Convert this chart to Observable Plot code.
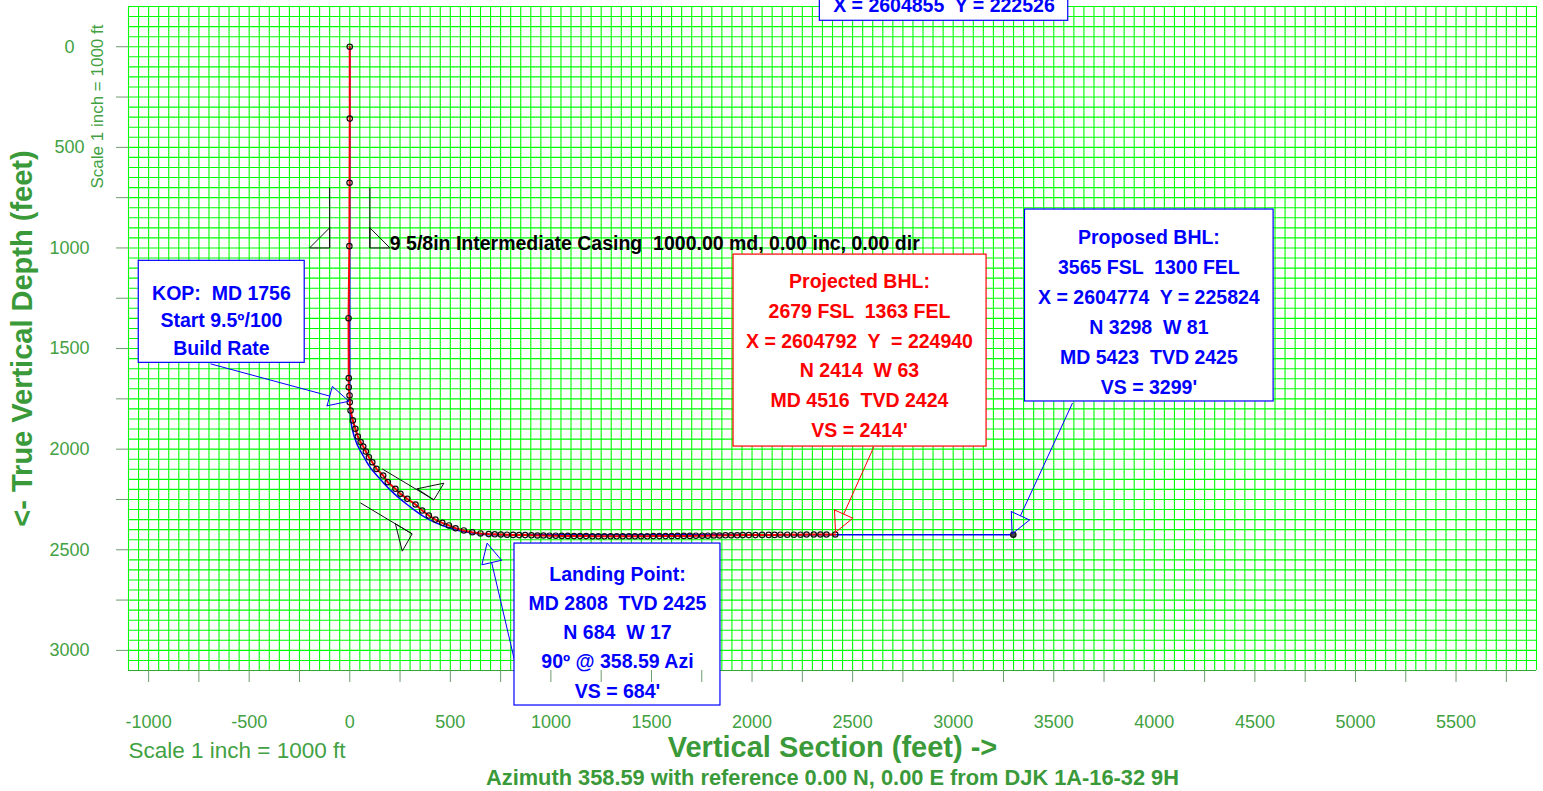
<!DOCTYPE html>
<html><head><meta charset="utf-8">
<script src="https://cdn.jsdelivr.net/npm/d3@7"></script>
<script src="https://cdn.jsdelivr.net/npm/@observablehq/plot@0.6"></script>
<style>
html,body{margin:0;padding:0;background:#fff;}
#chart svg{display:block;}
#chart svg text{white-space:pre;}
</style></head><body><div id="chart"></div>
<script>
// ---------- data (feet) ----------
// planned well path (blue)
const planVS  = [0, 0, 1, 5, 12, 22, 38, 55, 85, 108, 135, 165, 195, 222, 250, 285, 325, 360, 395, 428, 460, 500, 540, 585, 625, 684, 3299];
const planTVD = [0, 1756, 1800, 1857, 1900, 1937, 1980, 2012, 2065, 2100, 2131, 2165, 2197, 2222, 2247, 2275, 2305, 2330, 2350, 2366, 2379, 2393, 2404, 2413, 2419, 2425, 2425];
// survey / actual path (red with points)
const surveyVS  = [0, 0, -1, -2, -6, -5, -5, -1, 0, 4, 15, 28, 40, 54, 67, 80, 95, 112, 133, 166, 189, 227, 252, 286, 327, 360, 393, 426, 460, 493, 526, 567, 609, 650, 691,
  721, 751, 782, 812, 842, 872, 903, 933, 963, 993, 1024, 1054, 1084, 1115, 1145, 1175, 1206, 1236, 1266, 1297, 1327, 1357, 1388, 1418, 1448, 1479, 1509, 1539, 1570, 1600, 1630, 1661, 1691, 1721, 1752,
  1780, 1810, 1838, 1868, 1896, 1926, 1954, 1984, 2017, 2050, 2083, 2112, 2141, 2175, 2208, 2241, 2271, 2307, 2340, 2370, 2414];
const surveyTVD = [0, 357, 676, 991, 1349, 1647, 1692, 1733, 1767, 1808, 1857, 1899, 1937, 1965, 1987, 2012, 2040, 2065, 2098, 2131, 2164, 2197, 2222, 2247, 2275, 2305, 2330, 2350, 2366, 2379, 2393, 2404, 2413, 2419, 2422,
  2423, 2424, 2425, 2426, 2427, 2427, 2428, 2429, 2429, 2430, 2430, 2431, 2431, 2432, 2432, 2432, 2433, 2433, 2433, 2433, 2433, 2433, 2433, 2433, 2433, 2433, 2432, 2432, 2432, 2432, 2431, 2431, 2431, 2430, 2430,
  2430, 2429, 2429, 2428, 2428, 2428, 2427, 2427, 2427, 2426, 2426, 2426, 2425, 2425, 2425, 2425, 2424, 2424, 2424, 2424, 2424];

// annotation boxes
const boxX1 = [2337, -1049, 1908, 3357, 819];
const boxX2 = [3572, -224, 3166, 4593, 1843];
const boxY1 = [-700, 1064, 1033, 809, 2469];
const boxY2 = [-129, 1571, 1987, 1763, 3274];
const boxColor = ["#0000ff", "#0000ff", "#ff0000", "#0000ff", "#0000ff"];
const boxTextVS  = [2954, -638, 2534, 3973, 1331];
const boxTextTVD = [-175, 1350, 1522, 1306, 2898];
const boxText = [
  "X = 2604855  Y = 222526",
  "KOP:  MD 1756\nStart 9.5º/100\nBuild Rate",
  "Projected BHL:\n2679 FSL  1363 FEL\nX = 2604792  Y  = 224940\nN 2414  W 63\nMD 4516  TVD 2424\nVS = 2414'",
  "Proposed BHL:\n3565 FSL  1300 FEL\nX = 2604774  Y = 225824\nN 3298  W 81\nMD 5423  TVD 2425\nVS = 3299'",
  "Landing Point:\nMD 2808  TVD 2425\nN 684  W 17\n90º @ 358.59 Azi\nVS = 684'"
];
const boxLineAnchor = ["bottom", "middle", "middle", "middle", "middle"];
const boxLineHeight = [1.2, 1.41, 1.53, 1.54, 1.5];

// callout arrows
const arrowStartVS  = [-692, 2605, 3593, 819];
const arrowStartTVD = [1576, 1990, 1771, 3050];
const arrowTipVS    = [-4, 2415, 3293, 683];
const arrowTipTVD   = [1762, 2413, 2421, 2467];
const arrowColor    = ["#0000ff", "#ff0000", "#0000ff", "#0000ff"];

// casing symbols: wall lines and shoe triangles
const casingWallVS1  = [-100, 100, 161, 53];
const casingWallTVD1 = [700, 700, 2098, 2267];
const casingWallVS2  = [-100, 100, 418, 310];
const casingWallTVD2 = [1000, 1000, 2252, 2421];
const shoeVS  = [[-100, -200, -100], [100, 200, 100], [335, 468, 418], [227, 310, 261]];
const shoeTVD = [[900, 1000, 1000], [900, 1000, 1000], [2197, 2169, 2252], [2371, 2421, 2507]];
const casingLabel = "9 5/8in Intermediate Casing  1000.00 md, 0.00 inc, 0.00 dir";
const casingLabelVS = 199, casingLabelTVD = 1000;

// axes ticks
const xTicks = d3.range(-1000, 5751, 250);
const yTicks = d3.range(0, 3001, 250);
const yLabels = [0, 500, 1000, 1500, 2000, 2500, 3000];
const xTitle = "Vertical Section (feet) ->";
const yTitle = "<- True Vertical Depth (feet)";
const scaleNote = "Scale 1 inch = 1000 ft";
const azNote = "Azimuth 358.59 with reference 0.00 N, 0.00 E from DJK 1A-16-32 9H";

// ---------- build ----------
const plan = planVS.map((vs, i) => ({vs, tvd: planTVD[i]}));
const survey = surveyVS.map((vs, i) => ({vs, tvd: surveyTVD[i]}));
const boxes = boxX1.map((x1, i) => ({x1, x2: boxX2[i], y1: boxY1[i], y2: boxY2[i], color: boxColor[i],
  tx: boxTextVS[i], ty: boxTextTVD[i], text: boxText[i], la: boxLineAnchor[i], lh: boxLineHeight[i]}));
const shafts = [], heads = [];
arrowTipVS.forEach((tx, i) => {
  const sx = arrowStartVS[i], sy = arrowStartTVD[i], ty = arrowTipTVD[i];
  const L = Math.hypot(tx - sx, ty - sy), ux = (tx - sx) / L, uy = (ty - sy) / L;
  const mx = tx - 99 * ux, my = ty - 99 * uy;
  shafts.push({x1: sx, y1: sy, x2: mx, y2: my, c: arrowColor[i]});
  const px = -uy, py = ux;
  [[mx + 50 * px, my + 50 * py], [tx, ty], [mx - 50 * px, my - 50 * py], [mx + 50 * px, my + 50 * py]]
    .forEach(([x, y]) => heads.push({x, y, z: i, c: arrowColor[i]}));
});
const walls = casingWallVS1.map((v, i) => ({x1: v, y1: casingWallTVD1[i], x2: casingWallVS2[i], y2: casingWallTVD2[i]}));
const shoes = [];
shoeVS.forEach((xs, i) => { xs.concat([xs[0]]).forEach((x, j) => shoes.push({x, y: shoeTVD[i][j % 3], z: i})); });

const green = "#42a142";
const gridX = d3.range(-1100, 5901, 50);
const gridY = d3.range(-200, 3101, 50);

const chart = Plot.plot({
  width: 1543, height: 791,
  marginLeft: 128, marginRight: 7, marginTop: 6, marginBottom: 121,
  x: {domain: [-1100, 5900]},
  y: {domain: [-200, 3100], reverse: true},
  style: {fontFamily: "'Liberation Sans', Arial, Helvetica, sans-serif", fontSize: "18px", background: "white", overflow: "hidden"},
  marks: [
    Plot.ruleX(gridX, {stroke: "#00ff00", strokeWidth: 1.1}),
    Plot.ruleY(gridY, {stroke: "#00ff00", strokeWidth: 1.1}),
    Plot.ruleY([3100], {stroke: "#33a833", strokeWidth: 1.2}),
    // casing symbols
    Plot.link(walls, {x1: "x1", y1: "y1", x2: "x2", y2: "y2", stroke: "#111", strokeWidth: 1}),
    Plot.line(shoes, {x: "x", y: "y", z: "z", stroke: "#111", strokeWidth: 1, curve: "linear"}),
    Plot.text([casingLabel], {x: () => casingLabelVS, y: () => casingLabelTVD, textAnchor: "start", lineAnchor: "bottom", dy: 2, fontSize: 19.5, fontWeight: "bold", fill: "#000"}),
    // well paths
    Plot.line(plan, {x: "vs", y: "tvd", stroke: "#0000ff", strokeWidth: 1.5}),
    Plot.line(survey, {x: "vs", y: "tvd", stroke: "#ff0000", strokeWidth: 2}),
    Plot.dot(survey, {x: "vs", y: "tvd", r: 2.7, stroke: "#111", strokeWidth: 1.2, fill: "none"}),
    Plot.dot(plan.slice(-1), {x: "vs", y: "tvd", r: 2.7, stroke: "#111", strokeWidth: 1.2, fill: "#444"}),
    // callouts
    Plot.link(shafts, {x1: "x1", y1: "y1", x2: "x2", y2: "y2", stroke: "c", strokeWidth: 1}),
    Plot.line(heads, {x: "x", y: "y", z: "z", stroke: "c", strokeWidth: 1}),
    Plot.rect(boxes, {x1: "x1", x2: "x2", y1: "y1", y2: "y2", fill: "white", stroke: "color", strokeWidth: 1.2}),
    ...boxes.map(b => Plot.text([b], {x: "tx", y: "ty", text: "text", fill: b.color, lineAnchor: b.la, lineHeight: b.lh, fontSize: 19.5, fontWeight: "bold", textAnchor: "middle"})),
    // axes
    Plot.axisX(xTicks, {tickSize: 12, tickPadding: 33, tickFormat: d => d % 500 === 0 ? String(d) : "", stroke: "#6f9b6f", fill: green, fontSize: 18, label: null}),
    Plot.axisY(yTicks, {tickSize: 12, tickFormat: () => "", stroke: "#6f9b6f", label: null}),
    Plot.text(yLabels, {y: d => d, text: d => String(d), frameAnchor: "left", textAnchor: "middle", dx: -59, fontSize: 18, fill: green}),
    // titles / notes
    Plot.text([xTitle], {frameAnchor: "bottom", textAnchor: "middle", lineAnchor: "bottom", dy: 86, fontSize: 29, fontWeight: "bold", fill: "#3a9a3a"}),
    Plot.text([azNote], {frameAnchor: "bottom", textAnchor: "middle", lineAnchor: "bottom", dy: 114, fontSize: 21.8, fontWeight: "bold", fill: "#3a9a3a"}),
    Plot.text([scaleNote], {frameAnchor: "bottom-left", textAnchor: "start", lineAnchor: "bottom", dy: 87, fontSize: 22.5, fill: green}),
    Plot.text([yTitle], {frameAnchor: "left", textAnchor: "middle", lineAnchor: "middle", rotate: -90, dx: -106, fontSize: 29, fontWeight: "bold", fill: "#3a9a3a"}),
    Plot.text([scaleNote], {frameAnchor: "top-left", textAnchor: "middle", lineAnchor: "middle", rotate: -90, dx: -31, dy: 100, fontSize: 17, fill: green})
  ]
});
document.getElementById("chart").appendChild(chart);
</script>
</body></html>
